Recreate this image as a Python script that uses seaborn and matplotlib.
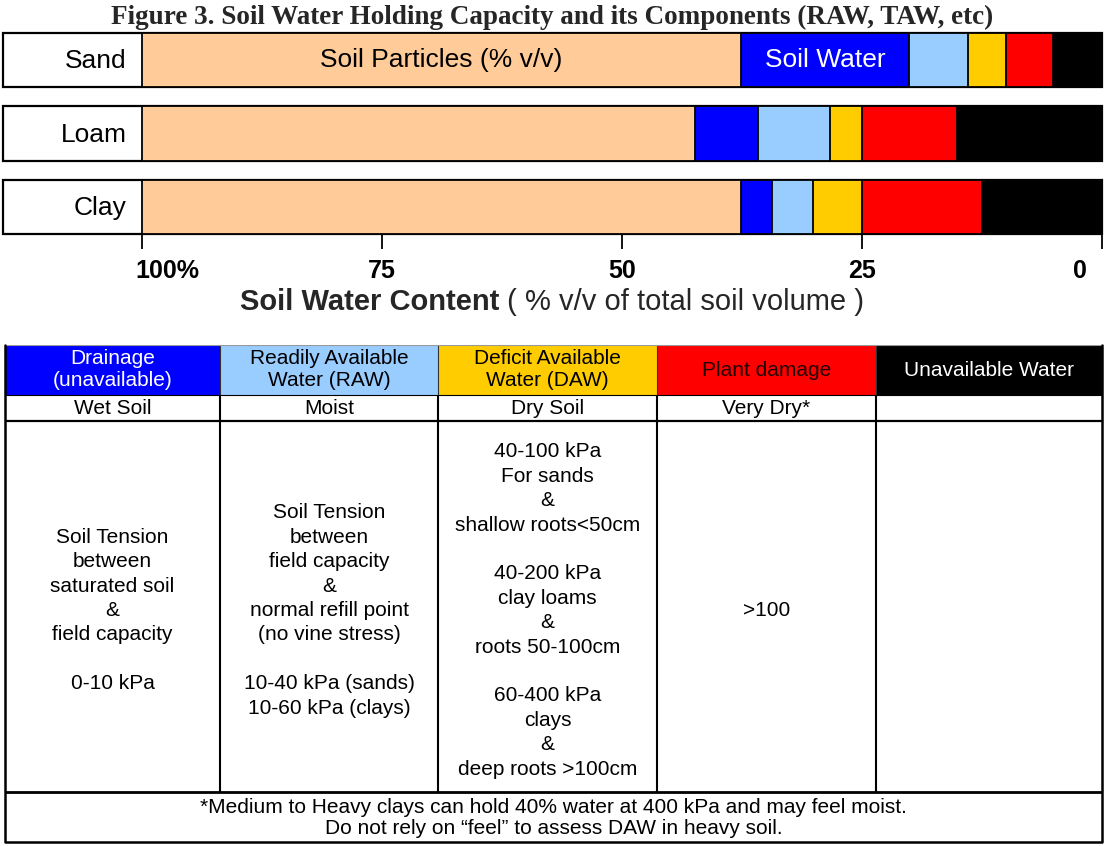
import matplotlib
matplotlib.use("Agg")
import matplotlib.pyplot as plt
import matplotlib.transforms as mtransforms
from matplotlib.patches import Rectangle
import pandas as pd
import seaborn as sns

# --- data (% v/v, left to right) ---
soils = ["Sand", "Loam", "Clay"]
particles = [62.4, 57.6, 62.4]
drainage = [17.5, 6.6, 3.2]
raw = [6.1, 7.5, 4.3]
daw = [4.0, 3.3, 5.1]
damage = [4.9, 9.9, 12.5]
unavailable = [5.1, 15.1, 12.5]

components = ["particles", "drainage", "raw", "daw", "damage", "unavailable"]
colors = ["#FFCC99", "#0000FF", "#99CCFF", "#FFCC00", "#FF0000", "#000000"]

tick_values = [100, 75, 50, 25, 0]
tick_labels = ["100%", "75", "50", "25", "0"]

header_labels = ["Drainage\n(unavailable)", "Readily Available\nWater (RAW)",
                 "Deficit Available\nWater (DAW)", "Plant damage", "Unavailable Water"]
header_text_colors = ["white", "black", "black", "#220000", "white"]
state_labels = ["Wet Soil", "Moist", "Dry Soil", "Very Dry*", ""]
detail_labels = [
    "Soil Tension\nbetween\nsaturated soil\n&\nfield capacity\n\n0-10 kPa",
    "Soil Tension\nbetween\nfield capacity\n&\nnormal refill point\n(no vine stress)\n\n"
    "10-40 kPa (sands)\n10-60 kPa (clays)",
    "40-100 kPa\nFor sands\n&\nshallow roots<50cm\n\n40-200 kPa\nclay loams\n&\n"
    "roots 50-100cm\n\n60-400 kPa\nclays\n&\ndeep roots >100cm",
    ">100",
    "",
]
footnote = ("*Medium to Heavy clays can hold 40% water at 400 kPa and may feel moist.\n"
            "Do not rely on \u201cfeel\u201d to assess DAW in heavy soil.")

df = pd.DataFrame({"soil": soils, "particles": particles, "drainage": drainage,
                   "raw": raw, "daw": daw, "damage": damage, "unavailable": unavailable})
# axis runs 100 -> 0 from left to right, so stack from the right-hand end
cum = df[components[::-1]].cumsum(axis=1)[components]

# --- layout ---
W, H = 1105, 846
LABEL_EDGE = 114.5
BAR_W = 0.735
col_widths = [215, 218, 219, 219, 226]
row_heights = [50, 26, 371, 50]

sns.set_theme(style="white")
plt.rcParams["font.family"] = ["Liberation Sans", "DejaVu Sans"]

fig = plt.figure(figsize=(W / 100, H / 100), dpi=100)
fig.patch.set_facecolor("white")

fig.text(0.5, 1 - 24 / H,
         "Figure 3. Soil Water Holding Capacity and its Components (RAW, TAW, etc)",
         ha="center", va="baseline", fontsize=19.5, fontweight="bold",
         family=["Liberation Serif", "DejaVu Serif"])

ax = fig.add_axes([3 / W, 1 - 234 / H, 1099 / W, 201 / H])

# white label boxes, then each stacked segment from the longest down
sns.barplot(x=[LABEL_EDGE] * len(soils), y=soils, orient="h", color="white",
            width=BAR_W, edgecolor="black", linewidth=1.6, saturation=1, ax=ax)
for comp, col in zip(components, colors):
    sns.barplot(x=cum[comp].values, y=soils, orient="h", color=col,
                width=BAR_W, edgecolor="black", linewidth=1.3, saturation=1, ax=ax)
for p in ax.patches:
    p.set_clip_on(False)

ax.set_xlim(LABEL_EDGE, 0)
ax.set_ylim(len(soils) - 1 + BAR_W / 2, -BAR_W / 2)
ax.set_ylabel("")
ax.set_xlabel("")
ax.set_yticks([])
for s in ax.spines.values():
    s.set_visible(False)

for i, name in enumerate(soils):
    ax.annotate(name, xy=(100, i), xytext=(-11, -1), textcoords="offset points",
                ha="right", va="center", fontsize=19, color="black")

# segment captions on the Sand bar
sand = 0
ax.text(cum.loc[sand, "particles"] - particles[sand] / 2, sand, "Soil Particles (% v/v)",
        ha="center", va="center", fontsize=19, color="black")
ax.text(cum.loc[sand, "drainage"] - drainage[sand] / 2, sand, "Soil Water",
        ha="center", va="center", fontsize=19, color="white")

ax.set_xticks(tick_values)
ax.set_xticklabels(tick_labels, fontweight="bold", fontsize=18, color="black")
ax.tick_params(axis="x", bottom=True, length=11, width=1.3, pad=7, color="black",
               direction="out")
lbls = ax.get_xticklabels()
lbls[0].set_transform(lbls[0].get_transform()
                      + mtransforms.ScaledTranslation(0.25, 0, fig.dpi_scale_trans))
lbls[-1].set_transform(lbls[-1].get_transform()
                       + mtransforms.ScaledTranslation(-0.22, 0, fig.dpi_scale_trans))

# axis title: bold part followed by regular part
t1 = fig.text(240 / W, 1 - 310 / H, "Soil Water Content", fontsize=21,
              fontweight="bold", ha="left", va="baseline")
renderer = fig.canvas.get_renderer()
bb = t1.get_window_extent(renderer)
fig.text(bb.x1 / W, 1 - 310 / H, " ( % v/v of total soil volume )", fontsize=21,
         ha="left", va="baseline")

# --- table ---
tw, th = sum(col_widths), sum(row_heights)
axt = fig.add_axes([5 / W, 1 - 842 / H, tw / W, th / H])
axt.set_xlim(0, tw)
axt.set_ylim(th, 0)
axt.axis("off")

col_edges = [0]
for w in col_widths:
    col_edges.append(col_edges[-1] + w)
row_edges = [0]
for h in row_heights:
    row_edges.append(row_edges[-1] + h)

cell_font = 15
for j in range(len(col_widths)):
    x0, x1 = col_edges[j], col_edges[j + 1]
    xc = (x0 + x1) / 2
    axt.add_patch(Rectangle((x0, row_edges[0]), x1 - x0, row_heights[0],
                            facecolor=colors[j + 1], edgecolor="none"))
    axt.text(xc, (row_edges[0] + row_edges[1]) / 2, header_labels[j], ha="center",
             va="center", fontsize=cell_font, color=header_text_colors[j], linespacing=1.2)
    axt.text(xc, (row_edges[1] + row_edges[2]) / 2, state_labels[j], ha="center",
             va="center", fontsize=cell_font, color="black")
    axt.text(xc, (row_edges[2] + row_edges[3]) / 2 + 4, detail_labels[j], ha="center",
             va="center", fontsize=cell_font, color="black", linespacing=1.36)

axt.text(tw / 2, (row_edges[3] + row_edges[4]) / 2 + 1, footnote, ha="center",
         va="center", fontsize=cell_font, color="black", linespacing=1.15)

for x in col_edges[1:-1]:
    axt.plot([x, x], [row_edges[0], row_edges[1]], color="#333333", lw=0.8,
             solid_capstyle="butt")
    axt.plot([x, x], [row_edges[1], row_edges[3]], color="black", lw=1.5,
             solid_capstyle="butt")
axt.plot([0, tw], [row_edges[1]] * 2, color="black", lw=0.8)
axt.plot([0, tw], [row_edges[2]] * 2, color="black", lw=1.6)
axt.plot([0, tw], [row_edges[3]] * 2, color="black", lw=2.0)
axt.plot([0, tw], [0, 0], color="#999999", lw=0.8)
axt.plot([0, 0, tw, tw], [0, th, th, 0], color="black", lw=1.8, clip_on=False)

fig.savefig("out.png", dpi=100, facecolor="white")
